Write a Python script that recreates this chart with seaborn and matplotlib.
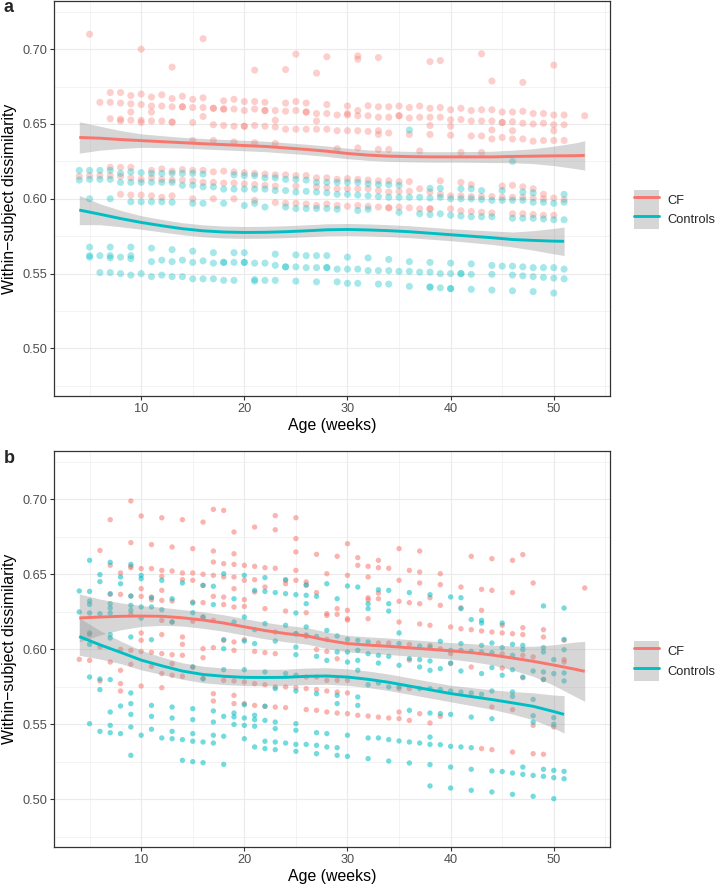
import numpy as np
import pandas as pd
import matplotlib
matplotlib.use("Agg")
import matplotlib.pyplot as plt
import seaborn as sns
from matplotlib.patches import Patch
from matplotlib.lines import Line2D
from matplotlib.legend_handler import HandlerTuple

# ---------------- data ----------------
groups = ["CF", "Controls"]
palette = {"CF": "#F8766D", "Controls": "#00BFC4"}

# Panel a: CF (week -> values)
a_cf_high = {
    5: [0.710], 6: [0.6645], 7: [0.671, 0.6645, 0.6535], 8: [0.671, 0.664, 0.6533, 0.652],
    9: [0.669, 0.6635, 0.658, 0.6525], 10: [0.700, 0.670, 0.663, 0.6525, 0.651],
    11: [0.668, 0.662, 0.658, 0.652], 12: [0.6695, 0.662, 0.652],
    13: [0.688, 0.667, 0.6615, 0.6515, 0.651], 14: [0.6685, 0.6615, 0.6615],
    15: [0.6665, 0.661, 0.651, 0.639], 16: [0.707, 0.6675, 0.661, 0.655],
    17: [0.6605, 0.6605, 0.6495, 0.639], 18: [0.6655, 0.660, 0.660, 0.649],
    19: [0.6665, 0.660, 0.6485, 0.638], 20: [0.665, 0.659, 0.6485, 0.6485],
    21: [0.686, 0.665, 0.660, 0.649, 0.6375], 22: [0.6645, 0.659, 0.659, 0.6485],
    23: [0.659, 0.6525, 0.648, 0.637], 24: [0.6864, 0.664, 0.6585, 0.6465],
    25: [0.6967, 0.665, 0.659, 0.6465], 26: [0.664, 0.658, 0.658, 0.6465],
    27: [0.684, 0.657, 0.652, 0.6465], 28: [0.6949, 0.663, 0.657, 0.6465],
    29: [0.656, 0.6455, 0.6335], 30: [0.662, 0.657, 0.656, 0.6455],
    31: [0.6955, 0.6933, 0.659, 0.6555, 0.6455, 0.634], 32: [0.6622, 0.6555, 0.645],
    33: [0.6944, 0.6615, 0.6545, 0.6455, 0.643, 0.633], 34: [0.6615, 0.6545, 0.644, 0.633],
    35: [0.662, 0.6555, 0.6555], 36: [0.661, 0.654, 0.643], 37: [0.662, 0.6545, 0.632],
    38: [0.6917, 0.6605, 0.6545, 0.649, 0.643], 39: [0.6924, 0.661, 0.6545],
    40: [0.6595, 0.6528, 0.6485, 0.6425], 41: [0.6605, 0.653, 0.631],
    42: [0.659, 0.652, 0.642], 43: [0.6969, 0.6595, 0.652, 0.642, 0.631],
    44: [0.6787, 0.6595, 0.652, 0.646, 0.640], 45: [0.658, 0.651, 0.651, 0.641],
    46: [0.658, 0.6515, 0.6455, 0.640], 47: [0.6778, 0.6585, 0.6505, 0.640],
    48: [0.657, 0.650, 0.6385], 49: [0.657, 0.6505, 0.639],
    50: [0.6893, 0.656, 0.6495, 0.6455, 0.639], 51: [0.656, 0.6495, 0.639], 53: [0.6555],
}
a_cf_low = {
    4: [0.615], 5: [0.6155], 6: [0.6155], 7: [0.621, 0.6155], 8: [0.621, 0.615, 0.603],
    9: [0.621, 0.614, 0.6025], 10: [0.613, 0.6025], 11: [0.619, 0.614, 0.602],
    12: [0.620, 0.613, 0.601], 13: [0.6185, 0.6125, 0.602], 14: [0.6195, 0.6125],
    15: [0.619, 0.612, 0.600], 16: [0.619, 0.611], 17: [0.618, 0.611, 0.600],
    18: [0.6185, 0.6105], 19: [0.618, 0.6105, 0.600], 20: [0.6175, 0.610],
    21: [0.617, 0.6095, 0.599], 22: [0.6165, 0.609], 23: [0.616, 0.6085, 0.5975],
    24: [0.616, 0.597], 25: [0.6155, 0.6085, 0.597], 26: [0.6155, 0.5965],
    27: [0.614, 0.608, 0.5955], 28: [0.614, 0.6075, 0.5965], 29: [0.613, 0.6067, 0.5955],
    30: [0.6135, 0.6067, 0.595], 31: [0.613, 0.6067, 0.5955], 32: [0.6125, 0.6067, 0.595],
    33: [0.612, 0.6055, 0.5945], 34: [0.612, 0.6045, 0.594, 0.594], 35: [0.6115, 0.605, 0.5945],
    36: [0.6115, 0.605, 0.594], 37: [0.6067, 0.5933], 38: [0.6045, 0.5933, 0.5933],
    39: [0.612, 0.603], 40: [0.602, 0.5933], 41: [0.611, 0.602, 0.592],
    42: [0.6095, 0.6015, 0.5915], 43: [0.6015, 0.591], 44: [0.6015, 0.5905],
    45: [0.6085, 0.601], 46: [0.609, 0.601, 0.590], 47: [0.608, 0.601, 0.590],
    48: [0.6067, 0.6005, 0.5895], 49: [0.603, 0.600, 0.589], 50: [0.6005, 0.589], 51: [0.5995],
}
# Panel a: Controls
a_ctrl_high = {
    4: [0.619, 0.6125], 5: [0.619, 0.613, 0.600], 6: [0.619, 0.613], 7: [0.619, 0.613, 0.600],
    8: [0.617, 0.611], 9: [0.618, 0.611, 0.598], 10: [0.6175, 0.611, 0.598],
    11: [0.617, 0.611, 0.598], 12: [0.617, 0.611, 0.598], 13: [0.617, 0.611, 0.5977],
    14: [0.617, 0.609], 15: [0.617, 0.609, 0.597], 16: [0.6165, 0.608, 0.597],
    17: [0.608], 18: [0.6065, 0.597], 19: [0.616, 0.6065], 20: [0.6155, 0.6065, 0.5955],
    21: [0.6155, 0.6065, 0.597], 22: [0.614, 0.6065, 0.5945], 23: [0.614, 0.6055],
    24: [0.613, 0.6055, 0.5945], 25: [0.613, 0.6045, 0.5935], 26: [0.6125, 0.605, 0.5935],
    27: [0.611, 0.6045, 0.5935], 28: [0.611, 0.604, 0.5935], 29: [0.611, 0.603, 0.593],
    30: [0.611, 0.603], 31: [0.611, 0.6025, 0.5922], 32: [0.610, 0.602, 0.593],
    33: [0.6095, 0.6015], 34: [0.6095, 0.601], 35: [0.609, 0.601, 0.591],
    36: [0.646, 0.601], 37: [0.601, 0.590], 38: [0.607, 0.6005, 0.5895],
    39: [0.607, 0.601, 0.590], 40: [0.600, 0.589], 41: [0.6067, 0.600, 0.5885],
    42: [0.6067, 0.600, 0.588], 43: [0.6055, 0.5995, 0.588], 44: [0.599, 0.588],
    45: [0.6055, 0.599], 46: [0.625, 0.599, 0.587], 47: [0.6045, 0.599, 0.587],
    48: [0.604, 0.5977, 0.587], 49: [0.5977, 0.5865], 50: [0.597, 0.586],
    51: [0.603, 0.5977, 0.586],
}
a_ctrl_low = {
    5: [0.5677, 0.562, 0.561], 6: [0.562, 0.5507], 7: [0.5677, 0.562, 0.5605, 0.5507],
    8: [0.561, 0.550], 9: [0.5677, 0.562, 0.560, 0.549], 10: [0.550],
    11: [0.567, 0.558, 0.548], 12: [0.559, 0.549], 13: [0.566, 0.558, 0.548],
    14: [0.559, 0.548], 15: [0.565, 0.5575, 0.5465], 16: [0.5585, 0.5465],
    17: [0.564, 0.557, 0.5465], 18: [0.5575, 0.5575, 0.5455], 19: [0.564, 0.5575, 0.5455],
    20: [0.564, 0.5575, 0.5575], 21: [0.557, 0.546, 0.545], 22: [0.557, 0.5455],
    23: [0.563, 0.5555, 0.5455], 24: [0.5545, 0.5545], 25: [0.5625, 0.5545, 0.545],
    26: [0.562, 0.554], 27: [0.562, 0.554, 0.5445], 28: [0.562, 0.554, 0.554],
    29: [0.553, 0.5445], 30: [0.561, 0.553, 0.5435], 31: [0.553, 0.5435],
    32: [0.5605, 0.552], 33: [0.552, 0.543], 34: [0.5595, 0.552, 0.543], 35: [0.5515],
    36: [0.558, 0.5515, 0.5415], 37: [0.551], 38: [0.5575, 0.551, 0.541, 0.541],
    39: [0.550, 0.5405], 40: [0.557, 0.550, 0.540, 0.540], 41: [0.550, 0.550],
    42: [0.5565, 0.5495, 0.5395], 44: [0.5555, 0.5495, 0.539], 45: [0.555],
    46: [0.555, 0.549, 0.5385], 47: [0.5545, 0.5485], 48: [0.554, 0.548, 0.538],
    49: [0.554, 0.5475], 50: [0.554, 0.547, 0.537], 51: [0.553, 0.5465],
}

# Panel b: CF
b_cf = {
    4: [0.5933], 5: [0.61, 0.5926], 6: [0.6659, 0.6015, 0.5789], 7: [0.6864, 0.656, 0.6366, 0.5915],
    8: [0.6509, 0.6366, 0.60, 0.586, 0.5771, 0.5722],
    9: [0.6989, 0.6711, 0.6553, 0.6544, 0.6355, 0.6233, 0.5993, 0.59],
    10: [0.6889, 0.6538, 0.6404, 0.6353, 0.6109, 0.606, 0.5986, 0.5755],
    11: [0.6698, 0.6538, 0.6348, 0.6330, 0.598, 0.5886],
    12: [0.6877, 0.6526, 0.6486, 0.6393, 0.6326, 0.6193, 0.6098, 0.5971, 0.5838, 0.5744],
    13: [0.6682, 0.6522, 0.6322, 0.6182, 0.5964, 0.5904, 0.5827],
    14: [0.6864, 0.6509, 0.6464, 0.6082, 0.6033, 0.596, 0.582],
    15: [0.6671, 0.6509, 0.646, 0.6315, 0.6187, 0.5882],
    16: [0.6848, 0.65, 0.6426, 0.6311, 0.6215, 0.6004, 0.5944, 0.5804],
    17: [0.6933, 0.6655, 0.6582, 0.6493, 0.6353, 0.6193, 0.6011, 0.5704, 0.5655],
    18: [0.6926, 0.6571, 0.6482, 0.6348, 0.6298, 0.606, 0.5793],
    19: [0.6782, 0.6637, 0.6566, 0.6482, 0.6404, 0.6282, 0.6049, 0.5993, 0.5789, 0.5693, 0.5638],
    20: [0.656, 0.646, 0.6331, 0.6286, 0.6064, 0.5782, 0.5638],
    21: [0.6815, 0.6553, 0.6464, 0.6382, 0.5986, 0.5771, 0.5626],
    22: [0.6544, 0.6415, 0.6271, 0.5978, 0.5764, 0.562],
    23: [0.6891, 0.6797, 0.654, 0.6115, 0.5971, 0.5749, 0.5615],
    24: [0.646, 0.6437, 0.6255, 0.5749, 0.5611],
    25: [0.6877, 0.6738, 0.6649, 0.6526, 0.646, 0.6104, 0.5744],
    26: [0.6449, 0.6426, 0.6244, 0.6086, 0.5815, 0.5738, 0.5598],
    27: [0.6633, 0.6378, 0.5998, 0.5815, 0.5731, 0.5593],
    28: [0.6504, 0.6237, 0.6226, 0.6066, 0.5986, 0.5793, 0.5722, 0.5582],
    29: [0.662, 0.6271, 0.6233, 0.5937, 0.5793, 0.5715, 0.5575],
    30: [0.6704, 0.6493, 0.626, 0.6204, 0.6195, 0.5793, 0.5709, 0.5571],
    31: [0.6611, 0.656, 0.556], 32: [0.6553, 0.6482, 0.6344, 0.633, 0.6204, 0.5555],
    33: [0.6593, 0.6544, 0.6375, 0.6337, 0.6042, 0.5548], 34: [0.654, 0.6042, 0.5542],
    35: [0.6671, 0.646, 0.632, 0.6182, 0.5738, 0.5582, 0.5538],
    36: [0.6526, 0.6311, 0.6033, 0.5928, 0.5738, 0.5526],
    37: [0.6655, 0.6515, 0.6442, 0.6304, 0.6169, 0.5571],
    38: [0.6344, 0.616, 0.6026, 0.5509], 39: [0.6504, 0.6431, 0.6293, 0.6004, 0.5553],
    40: [0.6149, 0.5971, 0.5905], 41: [0.6415, 0.6277, 0.6137], 42: [0.662, 0.6131, 0.5882],
    43: [0.64, 0.626, 0.6122, 0.5338], 44: [0.6604, 0.6393, 0.6115, 0.5615, 0.5331],
    45: [0.616, 0.6109, 0.597, 0.5875], 46: [0.6593, 0.6378, 0.6104, 0.5598, 0.5315],
    47: [0.6631, 0.6144, 0.6098, 0.596, 0.581], 48: [0.6442, 0.5949, 0.5493, 0.5304],
    49: [0.6131, 0.6082, 0.58, 0.53], 50: [0.5482], 51: [0.606, 0.5931, 0.5915], 53: [0.6409],
}
# Panel b: Controls
b_ctrl = {
    4: [0.6389, 0.6249],
    5: [0.6593, 0.6386, 0.6322, 0.630, 0.6242, 0.6109, 0.6033, 0.5815, 0.5504],
    6: [0.6498, 0.6451, 0.6237, 0.5802, 0.5731, 0.5453],
    7: [0.658, 0.6371, 0.6304, 0.6275, 0.6242, 0.6098, 0.6075, 0.5798, 0.5582, 0.5493, 0.5444],
    8: [0.6482, 0.6437, 0.5622, 0.5438],
    9: [0.6566, 0.6355, 0.6293, 0.626, 0.6082, 0.5709, 0.5638, 0.5566, 0.5482, 0.5293],
    10: [0.6493, 0.6471, 0.6282, 0.6208, 0.5427],
    11: [0.6344, 0.6282, 0.6064, 0.5626, 0.5553, 0.5467],
    12: [0.646, 0.6264, 0.5409], 13: [0.6337, 0.6182, 0.5615, 0.5542, 0.5453, 0.5404],
    14: [0.6442, 0.5398, 0.526],
    15: [0.6309, 0.6244, 0.5882, 0.5604, 0.5531, 0.5438, 0.5387, 0.5251],
    16: [0.6426, 0.6215, 0.5804, 0.5382, 0.5244],
    17: [0.642, 0.6298, 0.5589, 0.5515, 0.5427, 0.5375],
    18: [0.6504, 0.6064, 0.6004, 0.5864, 0.5553, 0.542, 0.5233],
    19: [0.6337, 0.6182, 0.5575, 0.5549, 0.5499],
    20: [0.6493, 0.6215, 0.6055, 0.5864, 0.5631, 0.5542, 0.5493, 0.5404],
    21: [0.6393, 0.6131, 0.6038, 0.556, 0.5531, 0.5487, 0.5349],
    22: [0.6478, 0.6386, 0.6171, 0.5849, 0.562, 0.5526, 0.5387, 0.5338],
    23: [0.6378, 0.6055, 0.5738, 0.5515, 0.5471, 0.5382, 0.5331],
    24: [0.6464, 0.6371, 0.616, 0.5838, 0.5375],
    25: [0.6364, 0.6242, 0.6104, 0.6015, 0.5964, 0.5827, 0.5722, 0.5504, 0.546, 0.5366, 0.532],
    26: [0.643, 0.636, 0.6304, 0.6149, 0.6095, 0.5366],
    27: [0.6353, 0.6086, 0.5953, 0.5704, 0.5444, 0.536, 0.5304],
    28: [0.6437, 0.6126, 0.5926, 0.5438, 0.5349],
    29: [0.6337, 0.6089, 0.5982, 0.5693, 0.5638, 0.5344, 0.5293],
    30: [0.6422, 0.6066, 0.5982, 0.5915, 0.5427, 0.5286],
    31: [0.6415, 0.606, 0.5993, 0.5926, 0.586, 0.5682, 0.5626],
    32: [0.6271, 0.6304, 0.6049, 0.5971, 0.5764, 0.5409, 0.5271],
    33: [0.6397, 0.596, 0.5908, 0.5775, 0.5409],
    34: [0.6393, 0.6304, 0.6255, 0.5953, 0.5749, 0.5398, 0.5255],
    35: [0.6109, 0.6038, 0.5893, 0.5749, 0.5389],
    36: [0.6378, 0.5938, 0.5593, 0.5382, 0.5242],
    37: [0.6022, 0.5931, 0.5882, 0.5738, 0.5375],
    38: [0.6364, 0.6015, 0.5922, 0.586, 0.5738, 0.5575, 0.5415, 0.5366, 0.5231, 0.5089],
    39: [0.6053, 0.5871, 0.5731, 0.5571, 0.5364],
    40: [0.6349, 0.5993, 0.5908, 0.5722, 0.5566, 0.5353, 0.5215, 0.5075],
    41: [0.6344, 0.6271, 0.6038, 0.5993, 0.5855, 0.5715, 0.5349],
    42: [0.6198, 0.5986, 0.5709, 0.5548, 0.5344, 0.52, 0.506],
    43: [0.6193, 0.6175, 0.6026, 0.5982, 0.5838, 0.57],
    44: [0.6042, 0.5978, 0.5878, 0.5722, 0.5537, 0.5189, 0.5049],
    45: [0.6175, 0.6011, 0.5827, 0.5185],
    46: [0.6033, 0.596, 0.5864, 0.5715, 0.5686, 0.5175, 0.5033],
    47: [0.6026, 0.5998, 0.5815, 0.5215, 0.5166],
    48: [0.5855, 0.5666, 0.5557, 0.5515, 0.5159, 0.502],
    49: [0.6289, 0.6011, 0.5982, 0.5849, 0.5798, 0.52, 0.5153],
    50: [0.5931, 0.5838, 0.5544, 0.55, 0.5193, 0.5144, 0.5004],
    51: [0.6275, 0.6066, 0.5997, 0.5842, 0.5789, 0.5186, 0.5137],
}

# Loess fits: week, fit, CI half-width
a_cf_fit_x = [4, 6, 8, 10, 12, 14, 16, 18, 20, 22, 24, 26, 28, 30, 32, 34, 36, 38, 40, 42, 44, 46, 48, 50, 52, 53]
a_cf_fit_y = [0.641, 0.6405, 0.6396, 0.6389, 0.6382, 0.6375, 0.6368, 0.6362, 0.6356, 0.635, 0.634, 0.633,
              0.6318, 0.6303, 0.6292, 0.6285, 0.6282, 0.628, 0.628, 0.628, 0.628, 0.6283, 0.6285, 0.6287, 0.6288, 0.629]
a_cf_fit_se = [0.0105, 0.008, 0.006, 0.0045, 0.004, 0.0036, 0.0035, 0.0035, 0.0035, 0.0035, 0.0035, 0.0035,
               0.0035, 0.0035, 0.0035, 0.0035, 0.0035, 0.0035, 0.0035, 0.0036, 0.0038, 0.0042, 0.005, 0.0065, 0.0085, 0.0098]
a_ctrl_fit_x = [4, 6, 8, 10, 12, 14, 16, 18, 20, 22, 24, 26, 28, 30, 32, 34, 36, 38, 40, 42, 44, 46, 48, 50, 51]
a_ctrl_fit_y = [0.5925, 0.5897, 0.5868, 0.5842, 0.582, 0.580, 0.5786, 0.5778, 0.5775, 0.5776, 0.578, 0.5786,
                0.5793, 0.5795, 0.5792, 0.5787, 0.578, 0.577, 0.576, 0.575, 0.574, 0.5728, 0.5722, 0.5717, 0.5716]
a_ctrl_fit_se = [0.0098, 0.007, 0.0055, 0.0045, 0.0042, 0.004, 0.004, 0.004, 0.004, 0.004, 0.004, 0.004,
                 0.004, 0.004, 0.004, 0.004, 0.004, 0.004, 0.004, 0.0042, 0.0045, 0.005, 0.0065, 0.0085, 0.0095]
b_cf_fit_x = [4, 6, 8, 10, 12, 14, 16, 18, 20, 22, 24, 26, 28, 30, 32, 34, 36, 38, 40, 42, 44, 46, 48, 50, 52, 53]
b_cf_fit_y = [0.6209, 0.6215, 0.622, 0.6222, 0.622, 0.621, 0.6195, 0.6175, 0.615, 0.6125, 0.6105, 0.609,
              0.606, 0.6038, 0.6028, 0.602, 0.601, 0.600, 0.599, 0.5978, 0.5962, 0.5942, 0.592, 0.5895, 0.5868, 0.5853]
b_cf_fit_se = [0.016, 0.012, 0.009, 0.007, 0.006, 0.0055, 0.0055, 0.0055, 0.0055, 0.0055, 0.0055, 0.0055,
               0.0055, 0.0055, 0.0055, 0.0055, 0.0055, 0.0055, 0.0055, 0.006, 0.0065, 0.008, 0.010, 0.0135, 0.018, 0.020]
b_ctrl_fit_x = [4, 6, 8, 10, 12, 14, 16, 18, 20, 22, 24, 26, 28, 30, 32, 34, 36, 38, 40, 42, 44, 46, 48, 50, 51]
b_ctrl_fit_y = [0.6085, 0.603, 0.598, 0.5928, 0.589, 0.5855, 0.5832, 0.582, 0.5813, 0.5812, 0.5813, 0.582,
                0.5822, 0.5815, 0.580, 0.578, 0.5755, 0.573, 0.5705, 0.5685, 0.5665, 0.5643, 0.562, 0.5585, 0.5566]
b_ctrl_fit_se = [0.0125, 0.0095, 0.0075, 0.0065, 0.0058, 0.0055, 0.0055, 0.0055, 0.0055, 0.0055, 0.0055, 0.0055,
                 0.0055, 0.0055, 0.0055, 0.0055, 0.0055, 0.0055, 0.0055, 0.006, 0.0065, 0.0075, 0.009, 0.011, 0.0125]

x_ticks = [10, 20, 30, 40, 50]
y_ticks = [0.50, 0.55, 0.60, 0.65, 0.70]
y_tick_labels = ["0.50", "0.55", "0.60", "0.65", "0.70"]
x_label = "Age (weeks)"
y_label = "Within\u2212subject dissimilarity"


def points_df(parts):
    rows = []
    for d, g in parts:
        for w, vals in d.items():
            for v in vals:
                rows.append((w, v, g))
    return pd.DataFrame(rows, columns=["week", "value", "group"])


def fit_df(parts):
    frames = []
    for xs, ys, se, g in parts:
        f = pd.DataFrame({"week": xs, "fit": ys, "se": se})
        f["lo"] = f["fit"] - f["se"]
        f["hi"] = f["fit"] + f["se"]
        f["group"] = g
        frames.append(f)
    return pd.concat(frames, ignore_index=True)


pts_a = points_df([(a_cf_high, "CF"), (a_cf_low, "CF"), (a_ctrl_high, "Controls"), (a_ctrl_low, "Controls")])
pts_b = points_df([(b_cf, "CF"), (b_ctrl, "Controls")])
fit_a = fit_df([(a_cf_fit_x, a_cf_fit_y, a_cf_fit_se, "CF"), (a_ctrl_fit_x, a_ctrl_fit_y, a_ctrl_fit_se, "Controls")])
fit_b = fit_df([(b_cf_fit_x, b_cf_fit_y, b_cf_fit_se, "CF"), (b_ctrl_fit_x, b_ctrl_fit_y, b_ctrl_fit_se, "Controls")])

# ---------------- drawing ----------------
sns.set_style("white")
plt.rcParams["font.family"] = ["Liberation Sans", "DejaVu Sans"]

W, H = 724, 886
fig = plt.figure(figsize=(W / 100, H / 100), dpi=100)

ribbon_col = "#999999"
grid_col = "#EBEBEB"


def draw_panel(rect, pts, fit, s, alpha, legend_y, letter, letter_y):
    ax = fig.add_axes(rect)
    ax.set_facecolor("white")
    sns.scatterplot(data=pts, x="week", y="value", hue="group", hue_order=groups, palette=palette,
                    s=s, alpha=alpha, edgecolor="none", linewidth=0, legend=False, ax=ax, zorder=2)
    for g in groups:
        f = fit[fit["group"] == g]
        ax.fill_between(f["week"], f["lo"], f["hi"], color=ribbon_col, alpha=0.4, linewidth=0, zorder=3)
    sns.lineplot(data=fit, x="week", y="fit", hue="group", hue_order=groups, palette=palette,
                 linewidth=2.1, legend=False, ax=ax, zorder=4, estimator=None, sort=True)
    for ln in ax.lines:
        ln.set_solid_capstyle("butt")

    ax.set_xlim(1.55, 55.45)
    ax.set_ylim(0.4682, 0.7322)
    ax.set_xticks(x_ticks)
    ax.set_xticks([5, 15, 25, 35, 45, 55], minor=True)
    ax.set_yticks(y_ticks)
    ax.set_yticklabels(y_tick_labels)
    ax.set_yticks([0.475, 0.525, 0.575, 0.625, 0.675, 0.725], minor=True)
    ax.grid(True, which="major", color=grid_col, linewidth=0.8, zorder=0)
    ax.grid(True, which="minor", color=grid_col, linewidth=0.4, zorder=0)
    ax.set_axisbelow(True)
    ax.tick_params(which="major", direction="out", length=3.2, width=0.8, color="#333333",
                   labelcolor="#4D4D4D", labelsize=9.2, pad=1.8, bottom=True, left=True)
    ax.tick_params(which="minor", length=0, bottom=False, left=False)
    for sp in ax.spines.values():
        sp.set_color("#333333")
        sp.set_linewidth(0.9)
        sp.set_visible(True)
    ax.set_xlabel(x_label, fontsize=11.4, labelpad=2.5, color="black")
    ax.set_ylabel(y_label, fontsize=11.4, labelpad=3.5, color="black")

    handles = [(Patch(facecolor="#D6D6D6", edgecolor="none"),
                Line2D([0, 1], [0, 0], color=palette[g], linewidth=2.1))
               for g in groups]
    fig.legend(handles, groups, handler_map={tuple: HandlerTuple(ndivide=1, pad=0)},
               loc="center left", bbox_to_anchor=(634 / W, 1 - legend_y / H), frameon=False,
               fontsize=9.3, handlelength=1.95, handleheight=1.95, labelspacing=0.0,
               handletextpad=0.6, borderpad=0, borderaxespad=0)
    fig.text(4 / W, 1 - letter_y / H, letter, fontsize=13, fontweight="bold", va="center", ha="left")
    return ax


ax_a = draw_panel([54 / W, 1 - 396 / H, 556 / W, 395 / H], pts_a, fit_a, 26, 0.35, 209.5, "a", 8)
ax_b = draw_panel([54 / W, 1 - 847 / H, 556 / W, 396 / H], pts_b, fit_b, 15, 0.55, 661, "b", 459)

fig.savefig("out.png", dpi=100, facecolor="white")
